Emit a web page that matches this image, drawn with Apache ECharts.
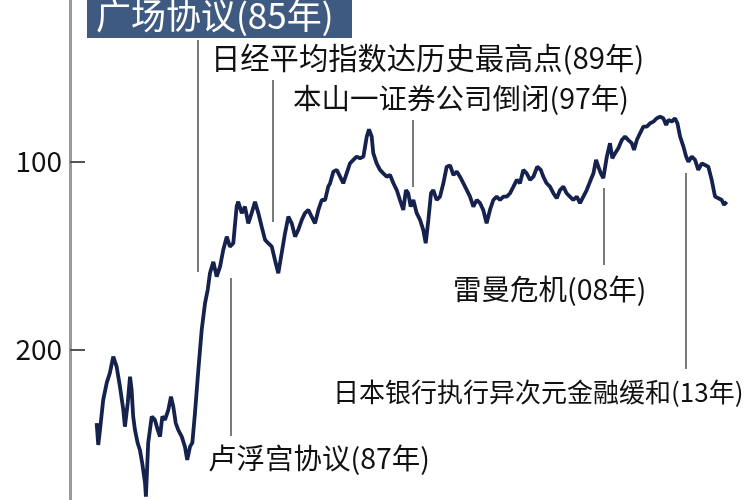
<!DOCTYPE html>
<html>
<head>
<meta charset="utf-8">
<script src="https://cdn.jsdelivr.net/npm/echarts@6/dist/echarts.min.js"></script>
<style>html,body{margin:0;padding:0;background:#fff;}#c{width:750px;height:500px;}</style>
</head>
<body>
<div id="c"></div>
<script>
// Yen per dollar (inverted axis), decimal years
const years = [1979.96,1980.05,1980.15,1980.33,1980.53,1980.71,1980.90,1981.09,1981.28,1981.47,1981.56,1981.72,1981.85,1981.94,1982.03,1982.13,1982.28,1982.41,1982.54,1982.70,1982.75,1982.88,1983.08,1983.26,1983.42,1983.55,1983.68,1983.83,1984.02,1984.17,1984.30,1984.44,1984.58,1984.78,1984.96,1985.09,1985.25,1985.38,1985.53,1985.72,1985.91,1986.10,1986.25,1986.38,1986.57,1986.76,1986.95,1987.13,1987.33,1987.51,1987.70,1987.89,1987.98,1988.18,1988.36,1988.55,1988.74,1988.93,1989.12,1989.31,1989.50,1989.68,1989.88,1990.06,1990.25,1990.44,1990.63,1990.82,1991.01,1991.20,1991.38,1991.58,1991.76,1991.95,1992.14,1992.33,1992.52,1992.71,1992.90,1993.08,1993.18,1993.37,1993.56,1993.75,1993.93,1994.12,1994.31,1994.50,1994.69,1994.88,1995.07,1995.26,1995.39,1995.54,1995.63,1995.82,1996.01,1996.20,1996.39,1996.58,1996.77,1996.96,1997.14,1997.33,1997.48,1997.61,1997.75,1997.90,1998.09,1998.28,1998.46,1998.60,1998.75,1998.90,1999.03,1999.22,1999.41,1999.60,1999.79,1999.98,2000.17,2000.36,2000.54,2000.83,2001.11,2001.30,2001.49,2001.68,2001.86,2002.05,2002.24,2002.43,2002.62,2002.81,2003.00,2003.19,2003.38,2003.57,2003.76,2003.94,2004.13,2004.32,2004.51,2004.70,2004.92,2005.12,2005.26,2005.45,2005.64,2005.83,2006.02,2006.21,2006.40,2006.58,2006.77,2006.96,2007.16,2007.34,2007.53,2007.72,2007.91,2008.10,2008.25,2008.38,2008.52,2008.66,2008.86,2009.04,2009.17,2009.33,2009.51,2009.71,2009.89,2010.08,2010.27,2010.40,2010.56,2010.74,2010.93,2011.12,2011.31,2011.50,2011.69,2011.88,2012.06,2012.22,2012.35,2012.54,2012.72,2012.86,2013.01,2013.20,2013.35,2013.48,2013.67,2013.86,2014.04,2014.24,2014.42,2014.61,2014.80,2014.99,2015.18,2015.37,2015.50,2015.65];
const rates = [239.1,250.7,242.7,226.8,217.7,212.4,203.7,209.0,219.7,232.0,241.0,228.4,214.4,221.4,235.6,242.7,249.6,253.4,260.3,270.9,278.2,249.6,235.6,237.4,242.7,246.3,235.6,237.4,232.1,225.0,230.3,239.1,242.7,246.3,251.6,258.7,251.6,249.6,233.7,210.8,189.5,175.2,168.2,159.2,153.3,161.2,155.9,147.0,139.9,145.2,143.4,123.9,121.3,127.4,123.9,132.8,127.4,121.3,127.4,134.6,141.6,143.4,145.2,152.3,159.4,148.7,138.1,129.3,132.8,139.9,136.3,131.0,127.4,125.7,129.3,132.8,125.7,120.4,120.4,113.3,111.5,105.3,104.4,108.0,111.5,106.2,100.9,99.1,97.3,98.2,97.3,86.7,82.8,86.7,95.5,100.9,104.4,106.2,108.0,107.1,111.5,115.1,120.4,125.7,115.1,116.8,123.9,120.4,127.4,131.0,136.3,143.4,131.0,116.8,115.1,120.4,118.6,111.5,102.7,102.0,107.1,105.3,108.0,113.3,118.6,123.9,120.4,122.1,125.7,132.8,125.7,120.4,118.6,120.4,118.6,118.6,116.8,113.3,109.7,111.5,104.4,106.2,109.7,108.0,102.7,104.4,108.0,111.5,113.3,116.8,119.5,115.1,113.3,116.8,118.6,120.4,118.6,122.1,118.6,115.1,110.6,106.2,99.1,102.7,106.2,108.8,97.3,90.2,98.2,95.5,92.9,88.5,86.7,88.5,90.2,93.8,88.5,84.9,81.4,81.4,79.6,78.7,76.9,76.1,76.9,80.5,77.8,78.7,76.9,79.6,86.7,92.0,97.3,100.0,97.3,99.1,104.4,100.9,101.8,102.7,109.7,118.6,119.5,120.4,123.0,121.3];
const tickValues = [100, 200];
// Event markers: year, line top value, line bottom value
const eventYears = [1985.7, 1987.57, 1989.95, 1997.88, 2008.70, 2013.35];
const eventTop = [35.3, 161.9, 56.5, 77.8, 114.0, 106.0];
const eventBottom = [158.7, 245.9, 132.1, 113.5, 155.0, 210.3];
const eventLabels = ['广场协议(85年)', '卢浮宫协议(87年)', '日经平均指数达历史最高点(89年)', '本山一证券公司倒闭(97年)', '雷曼危机(08年)', '日本银行执行异次元金融缓和(13年)'];

const FONT = '"Noto Sans CJK SC", "Noto Sans", sans-serif';
const chart = echarts.init(document.getElementById('c'), null, {renderer: 'canvas'});

const lineData = years.map((y, i) => [y, rates[i]]);
const markLines = eventYears.map((y, i) => [{coord: [y, eventTop[i]]}, {coord: [y, eventBottom[i]]}]);

const textStyle = (extra) => Object.assign({fontFamily: FONT, fontSize: 28.5, fill: '#111', verticalAlign: 'middle'}, extra);

chart.setOption({
  animation: false,
  backgroundColor: '#fff',
  grid: {left: 70, right: 0, top: 0, bottom: 0},
  xAxis: {type: 'value', min: 1978.45, max: 2016.97, show: false},
  yAxis: {
    type: 'value', inverse: true, min: 14, max: 280,
    splitLine: {show: false},
    axisLine: {show: true, lineStyle: {color: '#9a9a9a', width: 3}},
    axisTick: {show: true, inside: true, length: 15, customValues: tickValues, lineStyle: {color: '#555', width: 2}},
    axisLabel: {customValues: tickValues, fontFamily: FONT, fontSize: 28, color: '#111', margin: 8}
  },
  series: [
    {
      type: 'line', data: lineData, symbol: 'none',
      lineStyle: {color: '#15224d', width: 3.8},
      markLine: {
        silent: true, symbol: ['none', 'none'],
        label: {show: false},
        lineStyle: {color: '#7a7a7a', width: 2, type: 'solid'},
        data: markLines
      },
      z: 3
    }
  ],
  graphic: [
    {type: 'rect', shape: {x: 87, y: -5, width: 265, height: 43}, style: {fill: '#3f5a80'}, z: 10},
    {type: 'text', x: 96, y: 16, style: textStyle({text: eventLabels[0], fill: '#fff', fontSize: 35}), z: 11},
    {type: 'text', x: 208, y: 458, style: textStyle({text: eventLabels[1]}), z: 11},
    {type: 'text', x: 211, y: 58, style: textStyle({text: eventLabels[2], fontSize: 29.3}), z: 11},
    {type: 'text', x: 293, y: 98, style: textStyle({text: eventLabels[3]}), z: 11},
    {type: 'text', x: 453, y: 289, style: textStyle({text: eventLabels[4]}), z: 11},
    {type: 'text', x: 333, y: 392, style: textStyle({text: eventLabels[5], fontSize: 26}), z: 11}
  ]
});
</script>
</body>
</html>
